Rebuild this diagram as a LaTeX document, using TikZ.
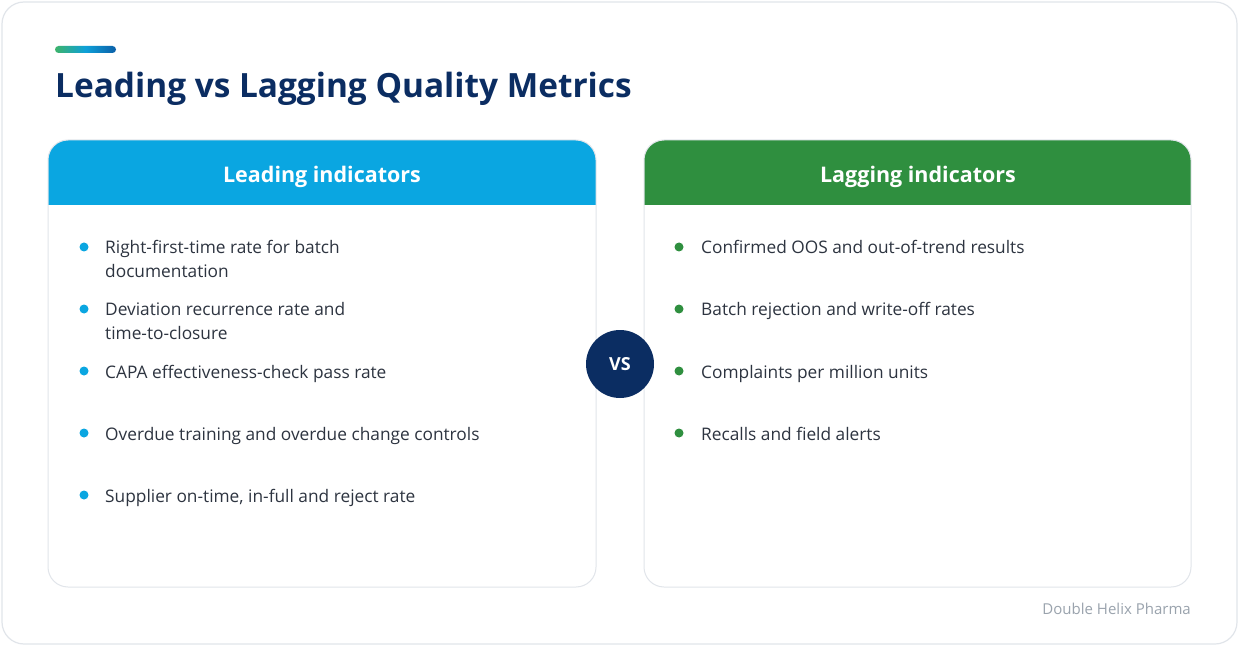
\documentclass[tikz,border=0pt]{standalone}
\usepackage{fontspec}
\setmainfont{Open Sans}
\usetikzlibrary{positioning}
\definecolor{navy}{HTML}{0B2D62}
\definecolor{leadblue}{HTML}{0AA6E1}
\definecolor{laggreen}{HTML}{2F8F3F}
\definecolor{bodytext}{HTML}{2D3440}
\definecolor{cardline}{HTML}{E1E5EA}
\definecolor{footgray}{HTML}{9AA3AD}
\definecolor{gradgreen}{HTML}{3DB36B}
\definecolor{gradcyan}{HTML}{0EA0D8}
\definecolor{gradblue}{HTML}{0B5FA8}
\tikzset{
  x=1pt,y=-1pt,
  bodyitem/.style={anchor=base west,inner sep=0pt,font=\fontsize{17.3}{20}\selectfont,text=bodytext},
  headtext/.style={inner sep=0pt,font=\bfseries\fontsize{21.5}{24}\selectfont,text=white},
  leaddot/.style={circle,fill=leadblue,minimum size=9pt,inner sep=0pt},
  lagdot/.style={circle,fill=laggreen,minimum size=9pt,inner sep=0pt},
}
\begin{document}
\begin{tikzpicture}
\useasboundingbox (0,0) rectangle (1240,647);
\fill[white] (0,0) rectangle (1240,647);
% outer card
\draw[cardline,line width=1.2pt,rounded corners=22,fill=white] (2,2) rectangle (1237,644);
% gradient bar
\shade[left color=gradgreen,right color=gradblue,middle color=gradcyan,rounded corners=3.5] (55,46) rectangle (116,53);
% title
\node[anchor=base west,inner sep=0pt,font=\bfseries\fontsize{33.4}{38}\selectfont,text=navy] (title) at (55,98) {Leading vs Lagging Quality Metrics};
% left card
\path[fill=white,rounded corners=20] (48,140) rectangle (596,587);
\begin{scope}
\clip[rounded corners=20] (48,140) rectangle (596,587);
\fill[leadblue] (48,140) rectangle (596,205);
\end{scope}
\draw[cardline,line width=1pt,rounded corners=20] (48,140) rectangle (596,587);
\node[headtext] (lefthead) at (322,177) {Leading indicators};
% right card
\path[fill=white,rounded corners=20] (644,140) rectangle (1191,587);
\begin{scope}
\clip[rounded corners=20] (644,140) rectangle (1191,587);
\fill[laggreen] (644,140) rectangle (1191,205);
\end{scope}
\draw[cardline,line width=1pt,rounded corners=20] (644,140) rectangle (1191,587);
\node[headtext] (righthead) at (918,177) {Lagging indicators};
% vs
\node[circle,fill=navy,minimum size=68pt,inner sep=0pt,text=white,font=\bfseries\fontsize{18}{20}\selectfont] (vs) at (620,364) {VS};
% left bullets
\node[leaddot] (ld1) at (84,247) {};
\node[bodyitem] (l1a) at (105,254) {Right-first-time rate for batch};
\node[bodyitem] (l1b) at (105,277) {documentation};
\node[leaddot] (ld2) at (84,309) {};
\node[bodyitem] (l2a) at (105,316) {Deviation recurrence rate and};
\node[bodyitem] (l2b) at (105,339) {time-to-closure};
\node[leaddot] (ld3) at (84,371) {};
\node[bodyitem] (l3) at (105,378) {CAPA effectiveness-check pass rate};
\node[leaddot] (ld4) at (84,433) {};
\node[bodyitem] (l4) at (105,440) {Overdue training and overdue change controls};
\node[leaddot] (ld5) at (84,495) {};
\node[bodyitem] (l5) at (105,502) {Supplier on-time, in-full and reject rate};
% right bullets
\node[lagdot] (rd1) at (679,247) {};
\node[bodyitem] (r1) at (701,254) {Confirmed OOS and out-of-trend results};
\node[lagdot] (rd2) at (679,309) {};
\node[bodyitem] (r2) at (701,316) {Batch rejection and write-off rates};
\node[lagdot] (rd3) at (679,371) {};
\node[bodyitem] (r3) at (701,378) {Complaints per million units};
\node[lagdot] (rd4) at (679,433) {};
\node[bodyitem] (r4) at (701,440) {Recalls and field alerts};
% footer
\node[anchor=base east,inner sep=0pt,font=\fontsize{15}{17}\selectfont,text=footgray] (foot) at (1191,614) {Double Helix Pharma};
\end{tikzpicture}
\end{document}
